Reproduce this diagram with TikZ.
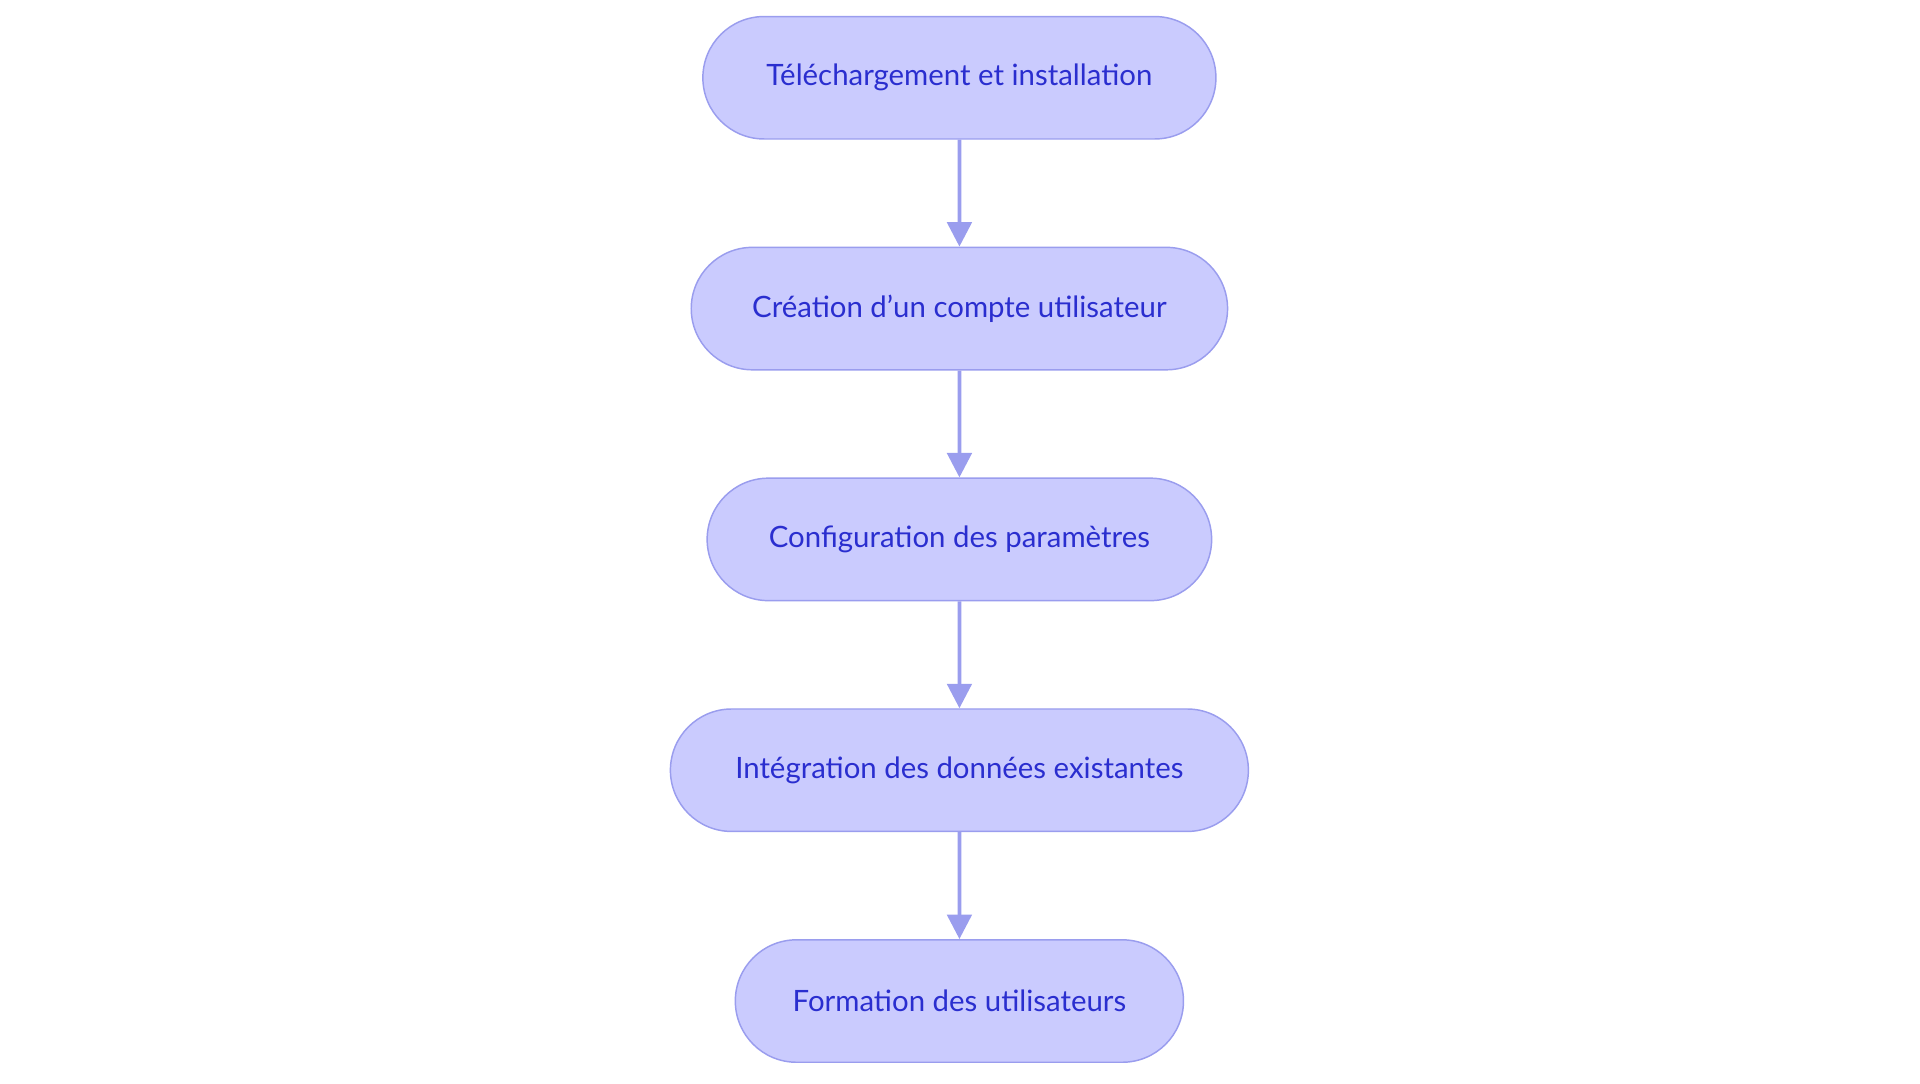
\documentclass[tikz,border=0pt]{standalone}
\usepackage{fontspec}
\setmainfont{Lato}
\usetikzlibrary{arrows.meta,shapes.misc}
\definecolor{fillc}{HTML}{CACBFE}
\definecolor{linec}{HTML}{9A9DEE}
\definecolor{textc}{HTML}{2A2ECF}
\begin{document}
\begin{tikzpicture}[x=0.5pt,y=-0.5pt,
  box/.style={rounded rectangle, draw=linec, line width=0.6pt, fill=fillc, text=textc, font=\fontsize{12}{14}\selectfont, minimum height=50pt, inner sep=0pt},
  arr/.style={draw=linec, line width=1.5pt, -{Triangle[length=10pt,width=10pt]}}]
\useasboundingbox (0,0) rectangle (1568,884.5);
\node[box, minimum width=209.5pt] (a) at (783.5,63.5) {Téléchargement et installation};
\node[box, minimum width=219pt] (b) at (783.5,252) {Création d'un compte utilisateur};
\node[box, minimum width=206pt] (c) at (783.5,440.5) {Configuration des paramètres};
\node[box, minimum width=236pt] (d) at (783.5,629) {Intégration des données existantes};
\node[box, minimum width=183pt] (e) at (783.5,817.5) {Formation des utilisateurs};
\draw[arr] (a) -- (b);
\draw[arr] (b) -- (c);
\draw[arr] (c) -- (d);
\draw[arr] (d) -- (e);
\end{tikzpicture}
\end{document}
